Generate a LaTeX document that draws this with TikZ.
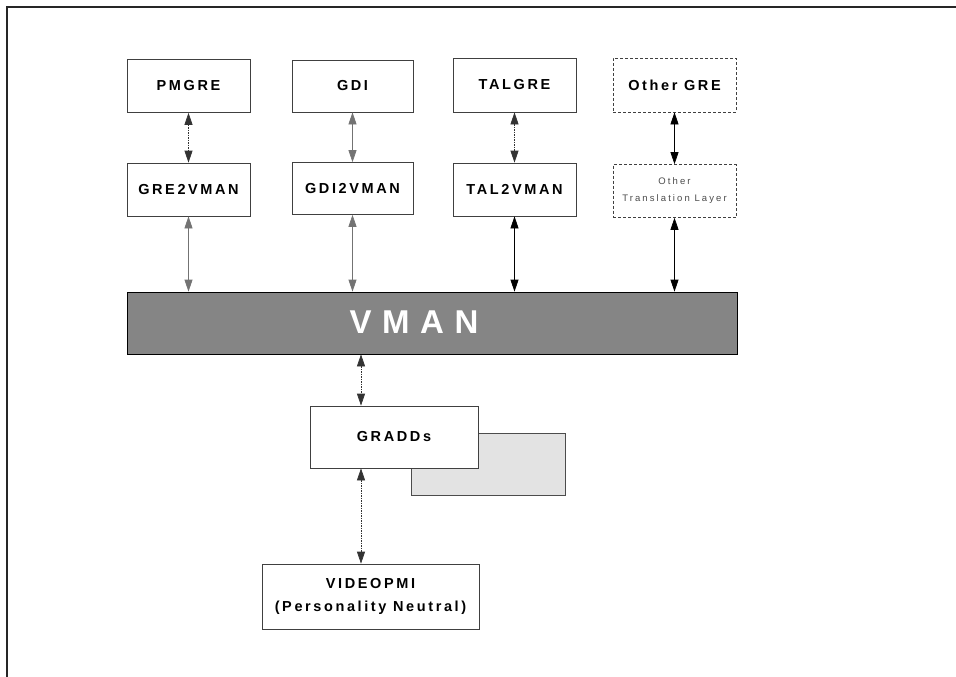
\documentclass[tikz,border=0pt]{standalone}
\usepackage{fontspec}
\setmainfont{Liberation Sans}
\newfontfamily\boxfont{Liberation Sans}[LetterSpace=18]
\newfontfamily\smallfont{Liberation Sans}[LetterSpace=22]
\newfontfamily\vmanfont{Liberation Sans}[LetterSpace=32]
\usetikzlibrary{arrows.meta,calc}
\begin{document}
\begin{tikzpicture}[x=1pt,y=-1pt,
  layer/.style={draw=black!75, line width=0.7pt, fill=white, inner sep=0pt,
    minimum width=123pt, minimum height=53pt,
    font=\boxfont\bfseries\fontsize{14.5}{23}\selectfont, align=center},
  optional/.style={layer, dashed, dash pattern=on 3pt off 2pt},
  link/.style={{Triangle[length=12pt,width=8pt]}-{Triangle[length=12pt,width=8pt]},
    line width=0.7pt},
  dottedlink/.style={link, dash pattern=on 1.5pt off 1pt, draw=black!80},
  greylink/.style={link, draw=black!55},
  solidlink/.style={link, draw=black}]
\useasboundingbox (0,0) rectangle (956,677);
% open frame along the top and the left edge
\draw[line width=2pt, black!85] (7,677) -- (7,7) -- (956,7);

% graphics engines
\node[layer, minimum width=123pt, minimum height=53pt] (pmgre) at (188.5,86) {PMGRE};
\node[layer, minimum width=121pt, minimum height=52pt] (gdi) at (352.5,86) {GDI};
\node[layer, minimum width=123pt, minimum height=54pt] (talgre) at (514.5,85) {TALGRE};
\node[optional, minimum width=123pt, minimum height=54pt] (othergre) at (674.5,85) {Other GRE};

% translation layers
\node[layer] (gre2vman) at (188.5,189.5) {GRE2VMAN};
\node[layer, minimum width=121pt, minimum height=52pt] (gdi2vman) at (352.5,188.5) {GDI2VMAN};
\node[layer] (tal2vman) at (514.5,189.5) {TAL2VMAN};
\node[optional, font=\smallfont\fontsize{9.5}{17}\selectfont, text=black!70] (othertl) at (674.5,191) {Other\\Translation Layer};

% VMAN bar
\node[draw=black, line width=0.7pt, fill=black!48, minimum width=610pt, minimum height=62pt,
  inner sep=0pt] (vman) at (432,323) {};
\node[text=white, font=\vmanfont\bfseries\fontsize{33}{33}\selectfont, inner sep=0pt]
  (vmanlabel) at (414,322) {VMAN};

% GRADDs with the stacked box behind it
\node[draw=black!70, line width=0.7pt, fill=black!11, minimum width=154pt, minimum height=62pt,
  inner sep=0pt] (gradshadow) at (488,464) {};
\node[layer, minimum width=168pt, minimum height=62pt] (gradds) at (394,437) {GRADDs};

% personality-neutral video PMI
\node[layer, minimum width=217pt, minimum height=65pt] (videopmi) at (370.5,596.5)
  {VIDEOPMI\\(Personality Neutral)};

% engine <-> translation layer
\draw[dottedlink] (pmgre.south) -- (gre2vman.north);
\draw[greylink] (gdi.south) -- (gdi2vman.north);
\draw[dottedlink] (talgre.south) -- (tal2vman.north);
\draw[solidlink] (othergre.south) -- (othertl.north);

% translation layer <-> VMAN
\draw[greylink] (gre2vman.south) -- (gre2vman.south |- vman.north);
\draw[greylink] (gdi2vman.south) -- (gdi2vman.south |- vman.north);
\draw[solidlink] (tal2vman.south) -- (tal2vman.south |- vman.north);
\draw[solidlink] (othertl.south) -- (othertl.south |- vman.north);

% VMAN <-> GRADDs <-> VIDEOPMI
\coordinate (gtop) at ([xshift=-33pt]gradds.north);
\coordinate (gbot) at ([xshift=-33pt]gradds.south);
\draw[dottedlink] (gtop |- vman.south) -- (gtop);
\draw[dottedlink] (gbot) -- (gbot |- videopmi.north);
\end{tikzpicture}
\end{document}
